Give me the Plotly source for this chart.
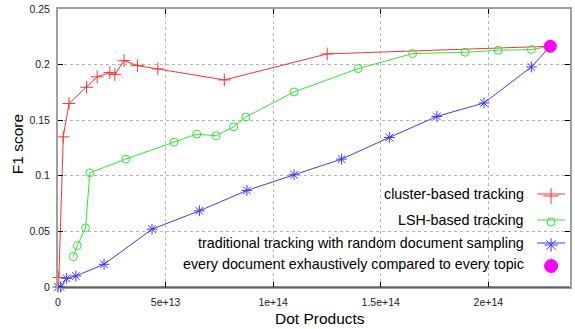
import plotly.graph_objects as go

# ---------------- data ----------------
red_x = [0.4e12, 2.45e12, 5.1e12, 1.33e13, 1.82e13, 2.41e13, 2.64e13, 3.07e13,
         3.69e13, 4.64e13, 7.73e13, 1.251e14, 2.288e14]
red_y = [0.0085, 0.135, 0.165, 0.1796, 0.189, 0.1928, 0.191, 0.2036,
         0.1991, 0.1961, 0.1862, 0.2096, 0.2165]

green_x = [7.08e12, 8.95e12, 1.28e13, 1.48e13, 3.15e13, 5.39e13, 6.45e13, 7.35e13,
           8.16e13, 8.73e13, 1.097e14, 1.395e14, 1.648e14, 1.892e14, 2.046e14,
           2.2e14, 2.288e14]
green_y = [0.0273, 0.0372, 0.0532, 0.1027, 0.115, 0.1303, 0.1375, 0.136,
           0.144, 0.1529, 0.1754, 0.1964, 0.2099, 0.2111, 0.2129,
           0.2135, 0.2165]

blue_x = [0, 1.2e12, 4.0e12, 8.3e12, 2.14e13, 4.37e13, 6.57e13, 8.78e13,
          1.097e14, 1.318e14, 1.54e14, 1.761e14, 1.98e14, 2.2e14, 2.288e14]
blue_y = [0, 0, 0.0078, 0.0099, 0.0204, 0.052, 0.0685, 0.0868,
          0.1009, 0.115, 0.1345, 0.1534, 0.1655, 0.1979, 0.2165]

exh_x = [2.288e14]
exh_y = [0.2165]

series_names = ["cluster-based tracking", "LSH-based tracking",
                "traditional tracking with random document sampling",
                "every document exhaustively compared to every topic"]

x_tickvals = [0, 5e13, 1e14, 1.5e14, 2e14]
x_ticktext = ["0", "5e+13", "1e+14", "1.5e+14", "2e+14"]
y_tickvals = [0, 0.05, 0.1, 0.15, 0.2, 0.25]
y_ticktext = ["0", "0.05", "0.1", "0.15", "0.2", "0.25"]

x_title = "Dot Products"
y_title = "F1 score"

# ---------------- layout geometry ----------------
W, H = 575, 329
ML, MR, MT, MB = 58, 3, 9, 42
PW = W - ML - MR
PH = H - MT - MB
X_MAX = 2.3796e14

def px(xp):
    return (xp - ML) / PW

def py(yp):
    return (MT + PH - yp) / PH

RED = "rgb(255,50,50)"
GREEN = "rgb(50,230,50)"
BLUE = "rgb(60,60,255)"
MAGENTA = "#ff00ff"
FONT = "Liberation Sans, Arial, sans-serif"

fig = go.Figure()

fig.add_trace(go.Scatter(x=red_x, y=red_y, mode="lines+markers", cliponaxis=False,
                         line=dict(color=RED, width=1),
                         marker=dict(symbol="cross-thin", size=9,
                                     line=dict(color=RED, width=1)),
                         showlegend=False))
fig.add_trace(go.Scatter(x=green_x, y=green_y, mode="lines+markers", cliponaxis=False,
                         line=dict(color=GREEN, width=1),
                         marker=dict(symbol="circle-open", size=8, color=GREEN,
                                     line=dict(color=GREEN, width=1)),
                         showlegend=False))
fig.add_trace(go.Scatter(x=blue_x, y=blue_y, mode="lines+markers", cliponaxis=False,
                         line=dict(color=BLUE, width=1),
                         marker=dict(symbol="asterisk-open", size=9,
                                     line=dict(color=BLUE, width=1)),
                         showlegend=False))
fig.add_trace(go.Scatter(x=exh_x, y=exh_y, mode="markers", cliponaxis=False,
                         marker=dict(symbol="circle", size=13, color=MAGENTA),
                         showlegend=False))

# ---------------- manual key (gnuplot style: text, then sample) ----------------
key_rows = [194, 220, 243, 264]
key_text_right = 528
key_l, key_r = 539, 567
key_styles = [
    dict(line=True, color=RED, symbol="cross-thin", size=11),
    dict(line=True, color=GREEN, symbol="circle-open", size=8),
    dict(line=True, color=BLUE, symbol="asterisk-open", size=11),
    dict(line=False, color=MAGENTA, symbol="circle", size=13),
]
annotations = []
for name, yrow, st in zip(series_names, key_rows, key_styles):
    annotations.append(dict(text=name, x=px(key_text_right), y=py(yrow),
                            xref="paper", yref="paper", xanchor="right",
                            yanchor="middle", showarrow=False,
                            font=dict(family=FONT, size=14.3, color="black")))
    if st["line"]:
        fig.add_trace(go.Scatter(x=[px(key_l), px(key_r)], y=[py(yrow)] * 2,
                                 mode="lines", line=dict(color=st["color"], width=1),
                                 xaxis="x2", yaxis="y2", showlegend=False,
                                 hoverinfo="skip", cliponaxis=False))
    mk = dict(symbol=st["symbol"], size=st["size"], color=st["color"],
              line=dict(color=st["color"], width=1))
    fig.add_trace(go.Scatter(x=[px((key_l + key_r) / 2)], y=[py(yrow + 2)],
                             mode="markers", marker=mk,
                             xaxis="x2", yaxis="y2", showlegend=False,
                             hoverinfo="skip", cliponaxis=False))

# axis titles
annotations.append(dict(text=x_title, x=px(321), y=py(318), xref="paper", yref="paper",
                        xanchor="center", yanchor="middle", showarrow=False,
                        font=dict(family=FONT, size=15.5, color="black")))
annotations.append(dict(text=y_title, x=px(17), y=py(144), xref="paper", yref="paper",
                        xanchor="center", yanchor="middle", showarrow=False, textangle=-90,
                        font=dict(family=FONT, size=15.5, color="black")))

shapes = [
    # opaque key area hiding the grid
    dict(type="rect", xref="paper", yref="paper", x0=px(273.5), x1=px(570), y0=py(285),
         y1=py(177), fillcolor="white", line=dict(width=0), layer="between"),
    dict(type="rect", xref="paper", yref="paper", x0=px(170), x1=px(274), y0=py(285),
         y1=py(233), fillcolor="white", line=dict(width=0), layer="between"),
    # bottom axis line (dark)
    dict(type="line", xref="paper", yref="paper", x0=0, x1=1, y0=0, y1=0,
         line=dict(color="#202020", width=1), layer="above"),
]

axis_common = dict(showgrid=True, gridcolor="#b4b4b4", griddash="dot", gridwidth=1,
                   zeroline=False, showline=True, linecolor="#a0a0a0", linewidth=2,
                   mirror="ticks", ticks="inside", ticklen=5, tickcolor="black",
                   tickfont=dict(family=FONT, size=10.5, color="#202020"))

fig.update_layout(
    width=W, height=H,
    margin=dict(l=ML, r=MR, t=MT, b=MB),
    paper_bgcolor="white", plot_bgcolor="white",
    xaxis=dict(range=[0, X_MAX], tickvals=x_tickvals, ticktext=x_ticktext,
               ticklabelstandoff=4, **axis_common),
    yaxis=dict(range=[0, 0.25], tickvals=y_tickvals, ticktext=y_ticktext,
               ticklabelstandoff=4, **axis_common),
    xaxis2=dict(range=[0, 1], overlaying="x", visible=False, fixedrange=True),
    yaxis2=dict(range=[0, 1], overlaying="y", visible=False, fixedrange=True),
    annotations=annotations,
    shapes=shapes,
    showlegend=False,
)

fig.write_html("out.html", config={"displayModeBar": False},
               post_script="document.body.style.margin='0';document.body.style.overflow='hidden';")
